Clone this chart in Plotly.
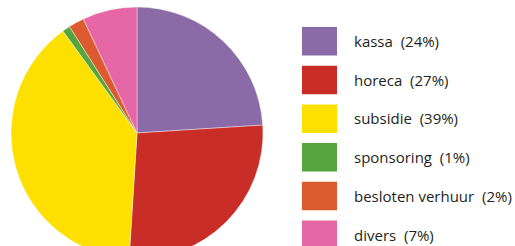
import plotly.graph_objects as go

categories = ["kassa", "horeca", "subsidie", "sponsoring", "besloten verhuur", "divers"]
values = [24, 27, 39, 1, 2, 7]
colors = ["#8A6BA8", "#C92D27", "#FDE000", "#56A53C", "#DC5B2E", "#E567A6"]

W, H = 515, 260
fig = go.Figure()
fig.add_trace(go.Pie(
    labels=categories, values=values, sort=False, direction="clockwise", rotation=0,
    marker=dict(colors=colors, line=dict(color="rgba(255,255,255,0.7)", width=0.6)),
    textinfo="none", hoverinfo="label+percent", showlegend=False,
    domain=dict(x=[11 / W, 263 / W], y=[1 - 259 / H, 1 - 7 / H]),
))

shapes, annotations = [], []
for i, (c, v, col) in enumerate(zip(categories, values, colors)):
    top = 27 + i * 38.7
    shapes.append(dict(type="rect", xref="paper", yref="paper",
                       x0=302 / W, x1=337 / W, y0=1 - (top + 28.5) / H, y1=1 - top / H,
                       fillcolor=col, line=dict(width=0)))
    annotations.append(dict(xref="paper", yref="paper", x=352 / W, y=1 - (top + 14) / H,
                            xanchor="left", yanchor="middle", showarrow=False,
                            text=f"{c}\u00a0\u00a0({v}%)",
                            font=dict(family="Open Sans", size=15, color="#231F20")))

fig.update_layout(width=W, height=H, margin=dict(l=0, r=0, t=0, b=0),
                  paper_bgcolor="white", plot_bgcolor="white",
                  shapes=shapes, annotations=annotations)

fig.write_html("out.html", config={"displayModeBar": False},
               post_script="document.body.style.overflow='hidden';document.body.style.margin='0';")
